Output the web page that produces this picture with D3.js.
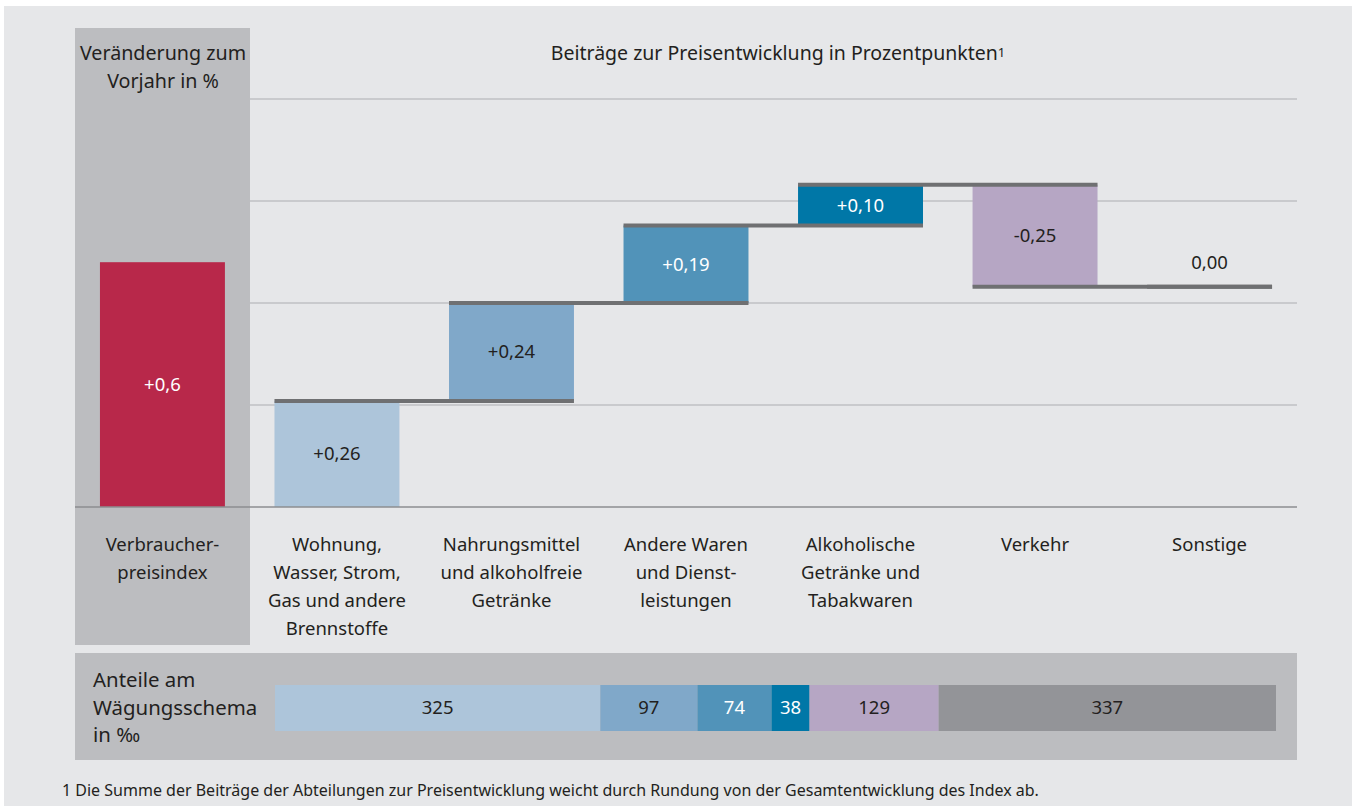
<!DOCTYPE html>
<html>
<head>
<meta charset="utf-8">
<script src="https://cdn.jsdelivr.net/npm/d3@7"></script>
<style>
  body { margin: 0; background: #ffffff; }
  svg text { font-family: "Noto Sans", sans-serif; fill: #231f20; }
</style>
</head>
<body>
<div id="ChartArea"></div>
<script>
// ------------------------------------------------------------------
//  Daten
// ------------------------------------------------------------------
const cpiKey = "vpi";
const cpiLines = ["Verbraucher-", "preisindex"];
const cpiValue = 0.6;

const catKeys = ["wohnung", "nahrung", "andere", "alkohol", "verkehr", "sonstige"];
const catLines = [
  ["Wohnung,", "Wasser, Strom,", "Gas und andere", "Brennstoffe"],
  ["Nahrungsmittel", "und alkoholfreie", "Getränke"],
  ["Andere Waren", "und Dienst-", "leistungen"],
  ["Alkoholische", "Getränke und", "Tabakwaren"],
  ["Verkehr"],
  ["Sonstige"]
];
const catValues = [0.26, 0.24, 0.19, 0.10, -0.25, 0.00];
const weights = [325, 97, 74, 38, 129, 337];
const gridTicks = [0.25, 0.5, 0.75, 1.0];

// Farben
const cpiColor = "#b8284a";
const catColors = ["#adc5da", "#80a8c9", "#5193b9", "#0077a7", "#b6a6c4", "#939498"];
const catTextColors = ["#231f20", "#231f20", "#ffffff", "#ffffff", "#231f20", "#231f20"];

// ------------------------------------------------------------------
const W = 1352, H = 806;
const left = 75, right = 1297;
const y0 = 507;
const labelSize = "18.5px";

const svg = d3.select("#ChartArea").append("svg")
  .attr("width", W).attr("height", H);

// Hintergrund
svg.append("rect").attr("x", 4).attr("y", 6).attr("width", W - 4).attr("height", H - 6)
  .attr("fill", "#e6e7e9");

// linke Spalte
svg.append("rect").attr("x", 75).attr("y", 28).attr("width", 175).attr("height", 617)
  .attr("fill", "#bcbdc0");

const x = d3.scaleBand()
  .domain([cpiKey].concat(catKeys))
  .range([left, right])
  .paddingInner(0.284)
  .paddingOuter(0.143);

const y = d3.scaleLinear().domain([0, 1]).range([y0, 99]);

const fmtLocale = d3.formatLocale({ decimal: ",", thousands: ".", grouping: [3], currency: ["", "€"], minus: "-" });
const fmt2 = fmtLocale.format("+.2f");
const fmt1 = fmtLocale.format("+.1f");
function label2(v) { return v === 0 ? fmtLocale.format(".2f")(v) : fmt2(v); }

// Gitterlinien
svg.selectAll(".grid")
  .data(gridTicks)
  .enter().append("line")
  .attr("class", "grid")
  .attr("x1", 250).attr("x2", right)
  .attr("y1", d => y(d)).attr("y2", d => y(d))
  .attr("stroke", "#bfc0c3").attr("stroke-width", 1.3);

// Titel
svg.append("text").attr("x", 163).attr("y", 60).attr("text-anchor", "middle")
  .style("font-size", "19.7px").text("Veränderung zum");
svg.append("text").attr("x", 163).attr("y", 88).attr("text-anchor", "middle")
  .style("font-size", "19.7px").text("Vorjahr in %");

const title = svg.append("text").attr("x", 778).attr("y", 60).attr("text-anchor", "middle")
  .style("font-size", "19.5px");
title.append("tspan").text("Beiträge zur Preisentwicklung in Prozentpunkten");
title.append("tspan").attr("dy", -3).style("font-size", "13px").text("1");

// VPI-Balken
svg.append("rect")
  .attr("x", x(cpiKey)).attr("width", x.bandwidth())
  .attr("y", y(cpiValue)).attr("height", y(0) - y(cpiValue))
  .attr("fill", cpiColor);
svg.append("text")
  .attr("x", x(cpiKey) + x.bandwidth() / 2)
  .attr("y", (y(cpiValue) + y(0)) / 2)
  .attr("dy", "0.35em").attr("text-anchor", "middle")
  .style("font-size", labelSize).style("fill", "#ffffff")
  .text(fmt1(cpiValue));

// Wasserfall
let cum = 0;
const steps = catValues.map(function(v, i) {
  const s = { key: catKeys[i], start: cum, end: cum + v, value: v, i: i };
  cum += v;
  return s;
});

svg.selectAll(".bar")
  .data(steps.filter(d => d.value !== 0))
  .enter().append("rect")
  .attr("class", "bar")
  .attr("x", d => x(d.key))
  .attr("width", x.bandwidth())
  .attr("y", d => y(Math.max(d.start, d.end)))
  .attr("height", d => Math.abs(y(d.start) - y(d.end)))
  .attr("fill", d => catColors[d.i]);

// Verbindungslinien
svg.selectAll(".conn")
  .data(steps)
  .enter().append("line")
  .attr("class", "conn")
  .attr("x1", d => x(d.key))
  .attr("x2", d => {
    const next = catKeys[d.i + 1];
    return next ? x(next) + x.bandwidth() : x(d.key) + x.bandwidth();
  })
  .attr("y1", d => y(d.end)).attr("y2", d => y(d.end))
  .attr("stroke", "#6f7072").attr("stroke-width", 4);

// Grundlinie
svg.append("line").attr("x1", left).attr("x2", right)
  .attr("y1", y0).attr("y2", y0)
  .attr("stroke", "#8d8e91").attr("stroke-width", 1.5);

// Werte
svg.selectAll(".bar-label")
  .data(steps)
  .enter().append("text")
  .attr("class", "bar-label")
  .attr("x", d => x(d.key) + x.bandwidth() / 2)
  .attr("y", d => d.value === 0 ? y(d.end) - 24 : (y(d.start) + y(d.end)) / 2)
  .attr("dy", "0.35em").attr("text-anchor", "middle")
  .style("font-size", labelSize)
  .style("fill", d => catTextColors[d.i])
  .text(d => label2(d.value));

// Kategorienamen
const allLines = [cpiLines].concat(catLines);
const allKeys = [cpiKey].concat(catKeys);
allKeys.forEach(function(k, i) {
  const t = svg.append("text")
    .attr("x", x(k) + x.bandwidth() / 2)
    .attr("y", 550)
    .attr("text-anchor", "middle")
    .style("font-size", labelSize);
  allLines[i].forEach(function(line, j) {
    t.append("tspan")
      .attr("x", x(k) + x.bandwidth() / 2)
      .attr("y", 551 + j * 28)
      .text(line);
  });
});

// Wägungsschema
svg.append("rect").attr("x", 75).attr("y", 653).attr("width", 1222).attr("height", 107)
  .attr("fill", "#bcbdc0");
["Anteile am", "Wägungsschema", "in ‰"].forEach(function(line, j) {
  svg.append("text").attr("x", 93).attr("y", 687 + j * 27.5)
    .style("font-size", "20.4px").text(line);
});

const wx = d3.scaleLinear().domain([0, d3.sum(weights)]).range([275, 1276]);
let wcum = 0;
const wsegs = weights.map(function(w, i) {
  const s = { start: wcum, end: wcum + w, w: w, i: i };
  wcum += w;
  return s;
});
svg.selectAll(".wbar")
  .data(wsegs)
  .enter().append("rect")
  .attr("class", "wbar")
  .attr("x", d => wx(d.start))
  .attr("width", d => wx(d.end) - wx(d.start))
  .attr("y", 685).attr("height", 46)
  .attr("fill", d => catColors[d.i]);
svg.selectAll(".wlabel")
  .data(wsegs)
  .enter().append("text")
  .attr("class", "wlabel")
  .attr("x", d => (wx(d.start) + wx(d.end)) / 2)
  .attr("y", 708).attr("dy", "0.35em")
  .attr("text-anchor", "middle")
  .style("font-size", labelSize)
  .style("fill", d => catTextColors[d.i])
  .text(d => d.w);

// Fußnote
svg.append("text").attr("x", 62).attr("y", 796)
  .style("font-size", "16px")
  .text("1 Die Summe der Beiträge der Abteilungen zur Preisentwicklung weicht durch Rundung von der Gesamtentwicklung des Index ab.");
</script>
</body>
</html>
